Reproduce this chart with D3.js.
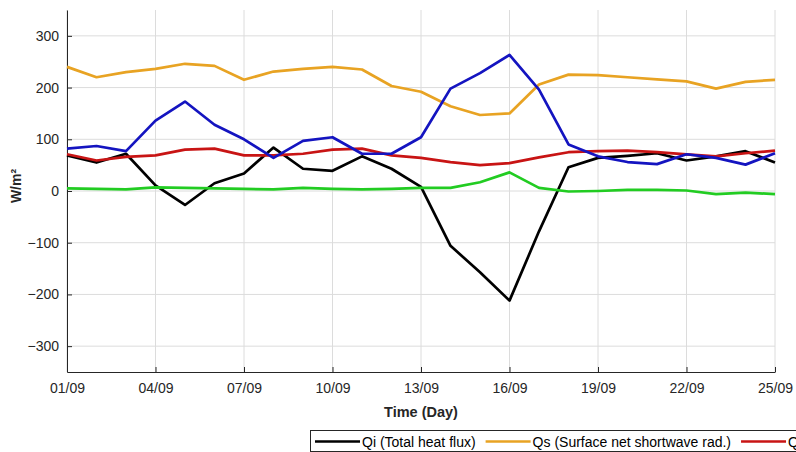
<!DOCTYPE html>
<html>
<head>
<meta charset="utf-8">
<script src="https://cdn.jsdelivr.net/npm/d3@7"></script>
<style>
  body { margin: 0; background: #fff; }
  svg { display: block; font-family: "Liberation Sans", Arial, sans-serif; }
  .axis text { fill: #262626; font-size: 14px; }
  .axis path, .axis line { stroke: #262626; }
  .grid line { stroke: #dcdcdc; stroke-width: 1; }
</style>
</head>
<body>
<div id="chart-area"></div>
<script>

// DATA

let days = ["01/09","02/09","03/09","04/09","05/09","06/09","07/09","08/09","09/09","10/09",
	"11/09","12/09","13/09","14/09","15/09","16/09","17/09","18/09","19/09","20/09",
	"21/09","22/09","23/09","24/09","25/09"];

let qi = [69, 55, 72, 11, -27, 15, 34, 84, 43, 39, 67, 43, 8, -106, -157, -212, -78, 46, 64, 68, 73, 59, 67, 77, 55];
let qs = [240, 220, 230, 236, 246, 242, 215, 231, 236, 240, 235, 203, 192, 164, 147, 150, 206, 225, 224, 220, 216, 212, 198, 211, 215];
let qb = [71, 59, 66, 69, 80, 82, 69, 69, 72, 80, 82, 69, 64, 56, 50, 54, 65, 75, 77, 78, 75, 71, 67, 73, 78];
let qh = [5, 4, 3, 7, 6, 5, 4, 3, 6, 4, 3, 4, 6, 6, 17, 36, 6, -1, 0, 2, 2, 1, -6, -3, -6];
let qe = [82, 87, 77, 136, 173, 128, 100, 64, 97, 104, 72, 72, 104, 198, 228, 263, 196, 90, 67, 56, 52, 71, 64, 51, 73];

let yTicks = [-300, -200, -100, 0, 100, 200, 300];
let xTickLabels = ["01/09","04/09","07/09","10/09","13/09","16/09","19/09","22/09","25/09"];

let series = [
	{name: "Qi (Total heat flux)", values: qi, color: "#000000"},
	{name: "Qs (Surface net shortwave rad.)", values: qs, color: "#e8a323"},
	{name: "Qb (Net longwave back radiation)", values: qb, color: "#c81414"},
	{name: "Qh (Sensible heat flux)", values: qh, color: "#22cc22"},
	{name: "Qe (Latent heat flux)", values: qe, color: "#1414c0"}
];

// CHART AREA

let margin = {top: 10, right: 21, bottom: 80, left: 67},
	width = 796 - margin.left - margin.right,
	height = 452 - margin.top - margin.bottom;

let root = d3.select("#chart-area").append("svg")
	.attr("width", 796)
	.attr("height", 452);

let svg = root.append("g")
	.attr("transform", "translate(" + margin.left + "," + margin.top + ")");

// scales
let xScale = d3.scalePoint()
	.domain(days)
	.range([0, width]);

let yScale = d3.scaleLinear()
	.domain([-350, 350])
	.range([height, 0]);

// grid
svg.append("g").attr("class", "grid")
	.selectAll("line.gx").data(xTickLabels).enter().append("line")
	.attr("x1", d => xScale(d)).attr("x2", d => xScale(d))
	.attr("y1", 0).attr("y2", height);

svg.append("g").attr("class", "grid")
	.selectAll("line.gy").data(yTicks).enter().append("line")
	.attr("x1", 0).attr("x2", width)
	.attr("y1", d => yScale(d)).attr("y2", d => yScale(d));

// axes (matlab style ticks pointing in)
let xAxis = d3.axisBottom(xScale)
	.tickValues(xTickLabels)
	.tickSizeInner(-5)
	.tickSizeOuter(0)
	.tickPadding(11);

let yAxis = d3.axisLeft(yScale)
	.tickValues(yTicks)
	.tickSizeInner(-5)
	.tickSizeOuter(0)
	.tickPadding(8);

svg.append("g")
	.attr("class", "x-axis axis")
	.attr("transform", "translate(0," + height + ")")
	.call(xAxis);

svg.append("g")
	.attr("class", "y-axis axis")
	.call(yAxis);

// lines
let line = d3.line()
	.x((d, i) => xScale(days[i]))
	.y(d => yScale(d));

svg.selectAll(".series")
	.data(series)
	.enter()
	.append("path")
	.attr("class", "series")
	.attr("fill", "none")
	.attr("stroke", d => d.color)
	.attr("stroke-width", 2.7)
	.attr("stroke-linejoin", "round")
	.attr("d", d => line(d.values));

// axis titles
svg.append("text")
	.attr("x", width / 2)
	.attr("y", height + 45)
	.style("text-anchor", "middle")
	.style("font-weight", "bold")
	.style("font-size", "14.5px")
	.attr("fill", "#262626")
	.text("Time (Day)");

root.append("text")
	.attr("transform", "translate(21,186) rotate(-90)")
	.style("text-anchor", "middle")
	.style("font-weight", "bold")
	.style("font-size", "14px")
	.attr("fill", "#262626")
	.text("W/m²");

// legend (runs off the right edge like the original)
let legend = root.append("g")
	.attr("transform", "translate(310,430)");

legend.append("rect")
	.attr("x", 0.5).attr("y", 0.5)
	.attr("width", 900).attr("height", 21)
	.attr("fill", "#fff")
	.attr("stroke", "#262626");

let lx = 5;
series.forEach(function(s) {
	legend.append("line")
		.attr("x1", lx).attr("x2", lx + 45)
		.attr("y1", 11.5).attr("y2", 11.5)
		.attr("stroke", s.color)
		.attr("stroke-width", 2.7);
	let t = legend.append("text")
		.attr("x", lx + 47)
		.attr("y", 16.5)
		.style("font-size", "14px")
		.attr("fill", "#000")
		.text(s.name);
	lx += 47 + t.node().getComputedTextLength() + 10;
});

</script>
</body>
</html>
